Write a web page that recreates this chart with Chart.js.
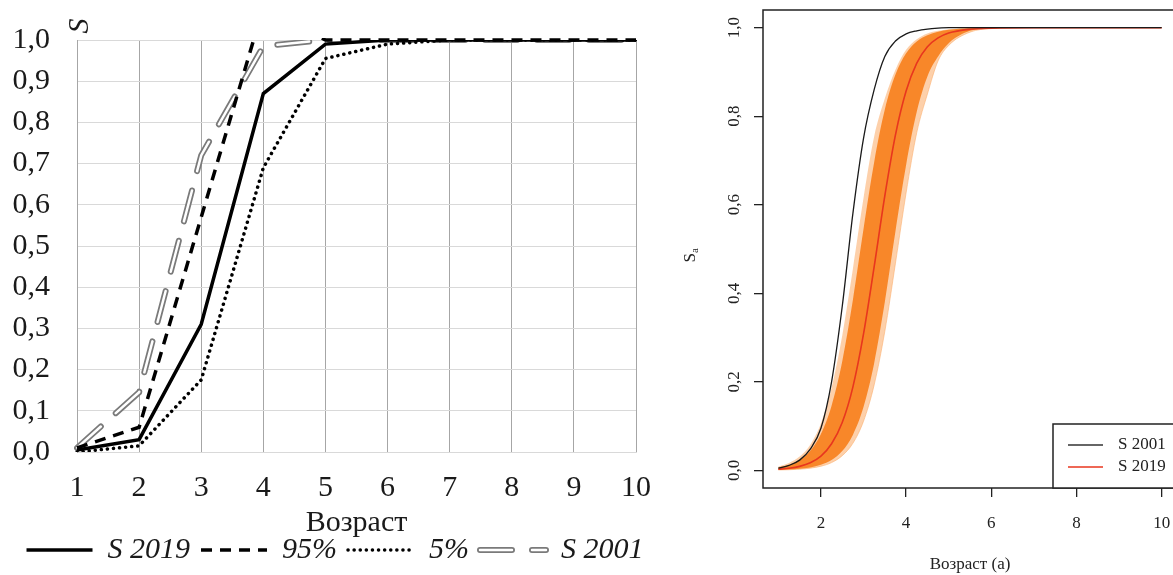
<!DOCTYPE html>
<html>
<head>
<meta charset="utf-8">
<script src="https://cdn.jsdelivr.net/npm/chart.js@4.4.1/dist/chart.umd.min.js"></script>
<style>
  html, body { margin: 0; padding: 0; background: #fff; overflow: hidden; width: 1173px; height: 575px; }
  #leftBox { position: absolute; left: 0; top: 0; width: 660px; height: 575px; }
  #rightBox { position: absolute; left: 660px; top: 0; width: 560px; height: 575px; }
</style>
</head>
<body>
<div id="leftBox"><canvas id="leftChart"></canvas></div>
<div id="rightBox"><canvas id="rightChart"></canvas></div>
<script>
const SERIF = "'Liberation Serif', 'Times New Roman', serif";

// --- DATA: left panel ---
const ages = ['1', '2', '3', '4', '5', '6', '7', '8', '9', '10'];
const s2019 = [0.005, 0.03, 0.31, 0.87, 0.99, 1.0, 1.0, 1.0, 1.0, 1.0];
const p95 = [0.01, 0.06, 0.57, 1.08, 1.0, 1.0, 1.0, 1.0, 1.0, 1.0];
const p5 = [0.0, 0.015, 0.175, 0.69, 0.955, 0.99, 1.0, 1.0, 1.0, 1.0];
const s2001 = [0.01, 0.145, 0.72, 0.985, 1.0, 1.0, 1.0, 1.0, 1.0, 1.0];
const leftYTicks = [0, 0.1, 0.2, 0.3, 0.4, 0.5, 0.6, 0.7, 0.8, 0.9, 1.0];
const leftXTitle = 'Возраст';
const leftYTitle = 'S';

// --- DATA: right panel ---
const rx = [1, 1.25, 1.5, 1.75, 2, 2.25, 2.5, 2.75, 3, 3.25, 3.5, 3.75, 4, 4.25, 4.5, 4.75, 5, 5.5, 6, 7, 10];
const r2001 = [0.005, 0.011, 0.023, 0.048, 0.095, 0.20, 0.37, 0.58, 0.75, 0.86, 0.935, 0.97, 0.986, 0.993, 0.997, 0.999, 1.0, 1.0, 1.0, 1.0, 1.0];
const r2019 = [0.0025, 0.0047, 0.0089, 0.017, 0.032, 0.060, 0.108, 0.188, 0.308, 0.46, 0.62, 0.758, 0.857, 0.92, 0.957, 0.977, 0.988, 0.9966, 0.9991, 1.0, 1.0];
const bandOuterHi = [0.0088, 0.0166, 0.031, 0.058, 0.106, 0.186, 0.304, 0.455, 0.615, 0.754, 0.84, 0.905, 0.95, 0.974, 0.987, 0.993, 0.9966, 0.9991, 1.0, 1.0, 1.0];
const bandInnerHi = [0.0066, 0.0125, 0.0237, 0.044, 0.082, 0.146, 0.246, 0.385, 0.545, 0.696, 0.815, 0.894, 0.942, 0.969, 0.983, 0.991, 0.9954, 0.9988, 1.0, 1.0, 1.0];
const bandInnerLo = [0.0009, 0.0018, 0.0034, 0.0064, 0.0123, 0.0232, 0.0435, 0.080, 0.143, 0.242, 0.38, 0.54, 0.69, 0.81, 0.89, 0.935, 0.965, 0.993, 0.999, 1.0, 1.0];
const bandOuterLo = [0.0007, 0.0013, 0.0025, 0.0048, 0.0092, 0.0174, 0.033, 0.061, 0.111, 0.193, 0.314, 0.468, 0.627, 0.763, 0.85, 0.925, 0.96, 0.99, 0.998, 1.0, 1.0];
const rightXTicks = [2, 4, 6, 8, 10];
const rightYTicks = [0, 0.2, 0.4, 0.6, 0.8, 1.0];
const rightXTitle = 'Возраст (a)';
const rightLegend = ['S 2001', 'S 2019'];

const comma = v => Number(v).toFixed(1).replace('.', ',');
const pts = ys => ys.map((y, i) => ({ x: rx[i], y }));

// --- LEFT CHART ---
const s2001Dash = [32, 20];

const leftYTitlePlugin = {
  id: 'leftYTitle',
  afterDraw(chart) {
    const c = chart.ctx;
    c.save();
    c.translate(80, 26);
    c.rotate(-Math.PI / 2);
    c.font = 'italic 30px ' + SERIF;
    c.fillStyle = '#1a1a1a';
    c.textAlign = 'center';
    c.textBaseline = 'middle';
    c.fillText(leftYTitle, 0, 0);
    c.restore();
  }
};

// white core over the grey S 2001 legend sample -> double line look
const legendDoubleLine = {
  id: 'legendDoubleLine',
  afterDraw(chart) {
    const lg = chart.legend;
    const i = lg.legendItems.findIndex(it => it.text === 'S 2001');
    if (i < 0) return;
    const box = lg.legendHitBoxes[i];
    const w = lg.options.labels.pointStyleWidth;
    const y = box.top + lg.options.labels.font.size / 2;
    const c = chart.ctx;
    c.save();
    c.strokeStyle = '#fff';
    c.lineWidth = 2.5;
    c.lineCap = 'round';
    c.setLineDash(s2001Dash);
    c.beginPath();
    c.moveTo(box.left, y);
    c.lineTo(box.left + w, y);
    c.stroke();
    c.restore();
  }
};

const leftChart = new Chart(document.getElementById('leftChart').getContext('2d'), {
  type: 'line',
  data: {
    labels: ages,
    datasets: [
      { label: 'S 2019', data: s2019, borderColor: '#000', borderWidth: 3.5, order: 0 },
      { label: '95%', data: p95, borderColor: '#000', borderWidth: 3.5, borderDash: [11, 8], order: 1, clip: 2 },
      { label: '5%', data: p5, borderColor: '#000', borderWidth: 3.5, borderDash: [0.1, 6], borderCapStyle: 'round', order: 2 },
      { label: 'S 2001', data: s2001, borderColor: '#7a7a7a', borderWidth: 6, borderDash: s2001Dash, borderCapStyle: 'round', order: 4 },
      { label: '', data: s2001, borderColor: '#fff', borderWidth: 2.5, borderDash: s2001Dash, borderCapStyle: 'round', order: 3 }
    ]
  },
  options: {
    responsive: true,
    maintainAspectRatio: false,
    animation: false,
    layout: { padding: { left: 10, right: 0, top: 40, bottom: 0 } },
    elements: { point: { radius: 0 }, line: { tension: 0, fill: false } },
    plugins: {
      tooltip: { enabled: false },
      legend: {
        position: 'bottom',
        labels: {
          usePointStyle: true,
          pointStyle: 'line',
          pointStyleWidth: 66,
          padding: 11,
          color: '#1a1a1a',
          font: { family: SERIF, size: 30, style: 'italic' },
          generateLabels: chart => Chart.defaults.plugins.legend.labels.generateLabels(chart)
            .filter(it => it.text !== '')
            .map(it => {
              const ds = chart.data.datasets[it.datasetIndex];
              it.lineDash = ds.borderDash || [];
              it.lineCap = ds.borderCapStyle || 'butt';
              return it;
            })
        }
      }
    },
    scales: {
      x: {
        offset: false,
        grid: { color: '#a6a6a6', drawTicks: false },
        border: { color: '#d9d9d9' },
        ticks: { color: '#1a1a1a', padding: 18, font: { family: SERIF, size: 30 } },
        title: { display: true, text: leftXTitle, color: '#1a1a1a', font: { family: SERIF, size: 30 }, padding: { top: 0, bottom: -17 } },
        afterFit: s => { s.height = 72; s.paddingLeft = 0; s.paddingRight = 24; }
      },
      y: {
        min: 0,
        max: 1,
        afterBuildTicks: s => { s.ticks = leftYTicks.map(v => ({ value: v })); },
        grid: { color: '#d9d9d9', drawTicks: false },
        border: { color: '#a6a6a6' },
        ticks: { autoSkip: false, color: '#1a1a1a', padding: 27, font: { family: SERIF, size: 30 }, callback: v => comma(v) },
        afterFit: s => { s.width = 67; s.paddingTop = 0; s.paddingBottom = 0; }
      }
    }
  },
  plugins: [leftYTitlePlugin, legendDoubleLine]
});

// --- RIGHT CHART ---
const rightFrame = {
  id: 'rightFrame',
  afterDraw(chart) {
    const c = chart.ctx;
    const a = chart.chartArea;
    c.save();
    c.strokeStyle = '#222';
    c.lineWidth = 1.5;
    c.strokeRect(a.left, a.top, a.right - a.left, a.bottom - a.top);

    // legend box, bottom right
    const lx = a.right - 124, ly = a.bottom - 64;
    c.fillStyle = '#fff';
    c.fillRect(lx, ly, a.right - lx, a.bottom - ly);
    c.strokeRect(lx, ly, a.right - lx, a.bottom - ly);
    const cols = ['#333', '#e8361e'];
    c.font = '17px ' + SERIF;
    c.textBaseline = 'middle';
    rightLegend.forEach((t, i) => {
      const y = ly + 21 + i * 22;
      c.strokeStyle = cols[i];
      c.lineWidth = 1.5;
      c.beginPath();
      c.moveTo(lx + 15, y);
      c.lineTo(lx + 50, y);
      c.stroke();
      c.fillStyle = '#222';
      c.fillText(t, lx + 65, y);
    });

    // y title: S with subscript a
    c.translate(31, 253);
    c.rotate(-Math.PI / 2);
    c.fillStyle = '#222';
    c.textAlign = 'right';
    c.font = '17px ' + SERIF;
    c.fillText('S', 0, 0);
    c.textAlign = 'left';
    c.font = '11px ' + SERIF;
    c.fillText('a', 0, 4);
    c.restore();
  }
};

const rightChart = new Chart(document.getElementById('rightChart').getContext('2d'), {
  type: 'line',
  data: {
    datasets: [
      { label: 'outerHi', data: pts(bandOuterHi), borderWidth: 0, borderColor: 'rgba(0,0,0,0)', fill: false, order: 6 },
      { label: 'outerLo', data: pts(bandOuterLo), borderWidth: 1, borderColor: 'rgba(251,175,110,0.6)', backgroundColor: 'rgba(251,170,100,0.55)', fill: '-1', order: 5 },
      { label: 'innerHi', data: pts(bandInnerHi), borderWidth: 0, borderColor: 'rgba(0,0,0,0)', fill: false, order: 4 },
      { label: 'innerLo', data: pts(bandInnerLo), borderWidth: 0, borderColor: 'rgba(0,0,0,0)', backgroundColor: 'rgba(247,128,28,0.9)', fill: '-1', order: 3 },
      { label: 'S 2019', data: pts(r2019), borderColor: '#e8361e', borderWidth: 1.6, order: 1 },
      { label: 'S 2001', data: pts(r2001), borderColor: '#1a1a1a', borderWidth: 1.3, order: 0 }
    ]
  },
  options: {
    responsive: true,
    maintainAspectRatio: false,
    animation: false,
    layout: { padding: { left: 0, right: 43, top: 10, bottom: 0 } },
    elements: { point: { radius: 0 }, line: { cubicInterpolationMode: 'monotone' } },
    plugins: { legend: { display: false }, tooltip: { enabled: false } },
    scales: {
      x: {
        type: 'linear',
        min: 0.64,
        max: 10.36,
        afterBuildTicks: s => { s.ticks = rightXTicks.map(v => ({ value: v })); },
        grid: { drawOnChartArea: false, tickLength: 9, color: '#222', lineWidth: 1.3 },
        border: { display: false },
        ticks: { color: '#222', padding: 16, font: { family: SERIF, size: 17 } },
        title: { display: true, text: rightXTitle, color: '#222', font: { family: SERIF, size: 17 }, padding: { top: 0, bottom: 0 } },
        afterFit: s => { s.height = 87; s.paddingLeft = 0; s.paddingRight = 0; }
      },
      y: {
        min: -0.04,
        max: 1.04,
        afterBuildTicks: s => { s.ticks = rightYTicks.map(v => ({ value: v })); },
        grid: { drawOnChartArea: false, tickLength: 9, color: '#222', lineWidth: 1.3 },
        border: { display: false },
        ticks: { color: '#222', padding: 9, minRotation: 90, maxRotation: 90, crossAlign: 'center', font: { family: SERIF, size: 17 }, callback: v => comma(v) },
        afterFit: s => { s.width = 103; s.paddingTop = 0; s.paddingBottom = 0; }
      }
    }
  },
  plugins: [rightFrame]
});
</script>
</body>
</html>
